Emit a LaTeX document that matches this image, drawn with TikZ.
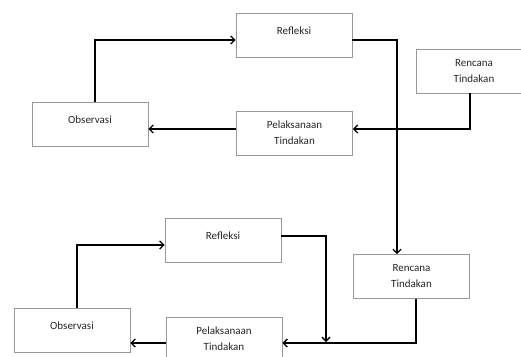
\documentclass[tikz,border=0pt]{standalone}
\usepackage{fontspec}
\setmainfont{Carlito}
\usetikzlibrary{arrows.meta}

\begin{document}
\begin{tikzpicture}[
    x=1pt, y=-1pt,
    stage/.style={
        rectangle,
        minimum width=116pt,
        minimum height=44pt,
        draw=gray!80,
        line width=0.8pt,
        fill=white,
        text=black!85,
        font=\fontsize{11}{16}\selectfont,
        align=center
    },
    single/.style={text depth=9pt},
    flow/.style={
        line width=1.3pt,
        -{Straight Barb[length=4pt,width=8pt,line width=1.3pt]}
    }
]

\useasboundingbox (0,0) rectangle (521,356);

% first cycle
\node[stage, single] (ref1) at (294,35) {Refleksi};
\node[stage] (ren1) at (474,71) {Rencana\\Tindakan};
\node[stage, single] (obs1) at (90,124.5) {Observasi};
\node[stage] (pel1) at (294.5,133) {Pelaksanaan\\Tindakan};

% second cycle
\node[stage, single] (ref2) at (223,240.5) {Refleksi};
\node[stage] (ren2) at (411.5,276.5) {Rencana\\Tindakan};
\node[stage, single] (obs2) at (72,330) {Observasi};
\node[stage] (pel2) at (224,339) {Pelaksanaan\\Tindakan};
\coordinate (join) at (326,342);

\draw[flow] ([xshift=5pt]obs1.north) |- ([yshift=-5pt]ref1.west);
\draw[flow] ([yshift=-5pt]ref1.east) -| ([xshift=-14.5pt]ren2.north);
\draw[flow] ([xshift=-4pt]ren1.south) |- ([yshift=4pt]pel1.east);
\draw[flow] ([yshift=4pt]pel1.west) -- ([yshift=4pt]pel1.west -| obs1.east);

\draw[flow] ([xshift=5pt]obs2.north) |- ([yshift=-4.5pt]ref2.west);
\draw[flow] ([yshift=4.5pt]ref2.east) -| (join);
\draw[flow] ([xshift=4.5pt]ren2.south) |- ([yshift=-4pt]pel2.east);
\draw[flow] ([yshift=-4pt]pel2.west) -- ([yshift=-4pt]pel2.west -| obs2.east);

\end{tikzpicture}
\end{document}
